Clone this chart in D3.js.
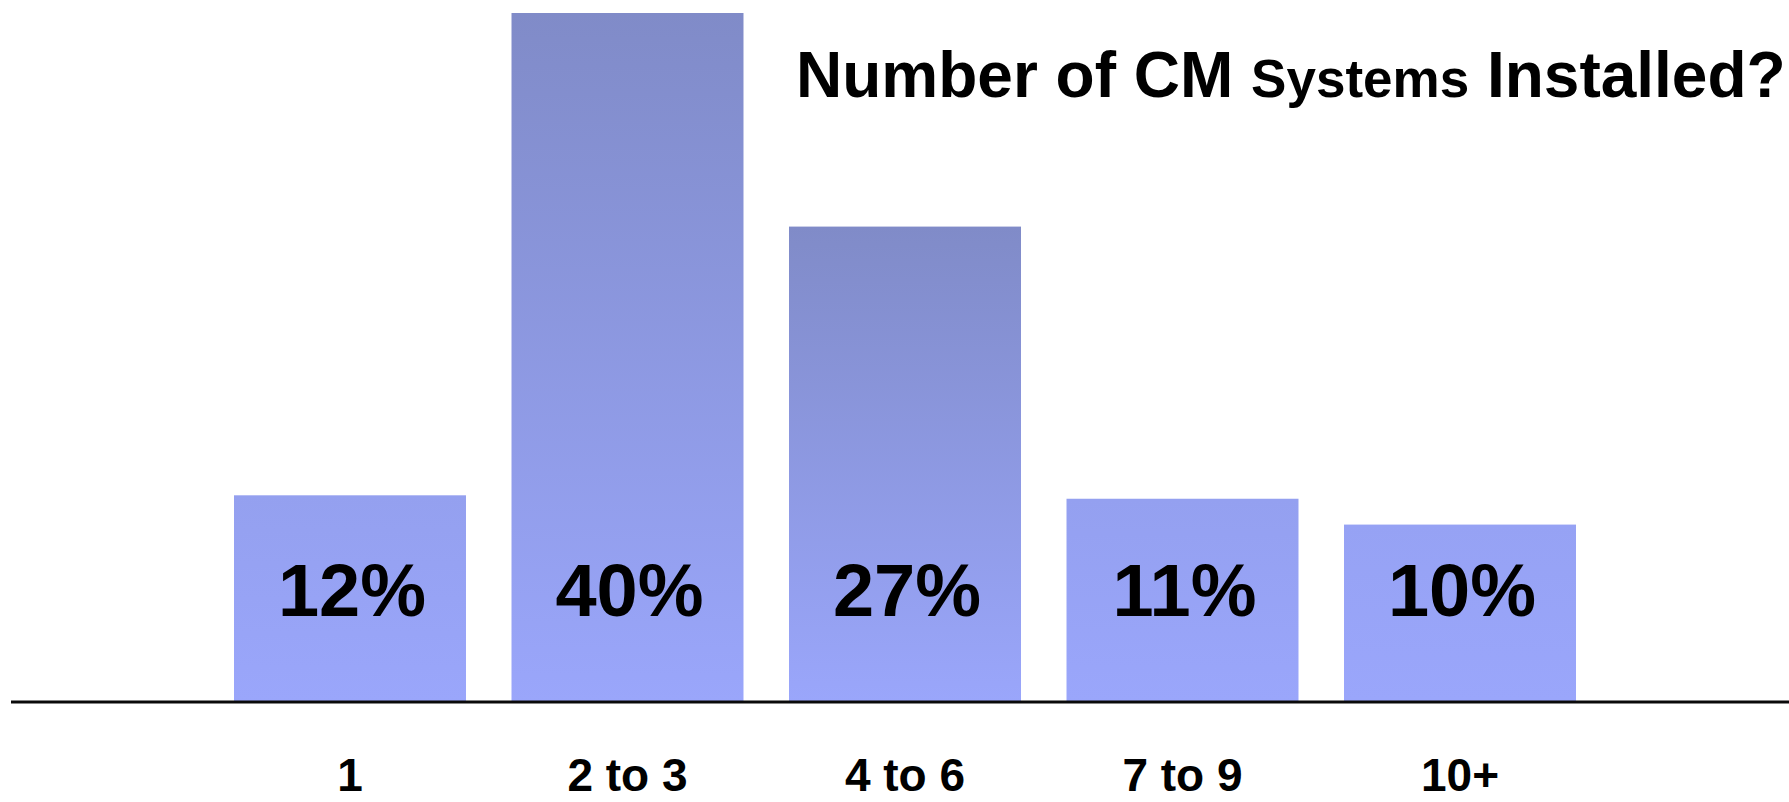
<!DOCTYPE html>
<html>
<head>
<meta charset="utf-8">
<style>
  html, body { margin: 0; padding: 0; background: #fff; }
  svg { display: block; font-family: "Liberation Sans", Arial, sans-serif; font-weight: bold; }
</style>
</head>
<body>
<svg width="1789" height="802"></svg>
<script src="https://cdn.jsdelivr.net/npm/d3@7"></script>
<script>
	// categories and the printed percentages
	var categories = ["1", "2 to 3", "4 to 6", "7 to 9", "10+"];
	var shareLabels = ["12%", "40%", "27%", "11%", "10%"];
	// bar heights as drawn in the picture (percent)
	var shares = [12, 40, 27.6, 11.8, 10.3];

	var svg = d3.select("svg"),
		width = +svg.attr("width"),
		height = +svg.attr("height");

	var baseY = 702;

	var x = d3.scaleBand().domain(categories).range([234, 1576])
		.paddingInner(0.164).paddingOuter(0);
	var y = d3.scaleLinear().domain([0, 40]).range([baseY, 13]);

	var light = "#9aa6fb", dark = "#808bc8";
	// how far toward the dark colour the top of a bar gets
	var topShade = d3.scaleLinear().domain([8, 25]).range([0, 1]).clamp(true);

	var defs = svg.append("defs");
	var data = categories.map(function(c, i) {
		return { cat: c, value: shares[i], label: shareLabels[i], i: i };
	});

	data.forEach(function(d) {
		var g = defs.append("linearGradient").attr("id", "grad" + d.i)
			.attr("x1", 0).attr("y1", 0).attr("x2", 0).attr("y2", 1);
		g.append("stop").attr("offset", "0%")
			.attr("stop-color", d3.interpolateRgb(light, dark)(topShade(d.value)));
		g.append("stop").attr("offset", "100%").attr("stop-color", light);
	});

	svg.append("g").selectAll("rect").data(data).enter().append("rect")
		.attr("x", function(d) { return x(d.cat); })
		.attr("y", function(d) { return y(d.value); })
		.attr("width", x.bandwidth())
		.attr("height", function(d) { return baseY - y(d.value); })
		.attr("fill", function(d) { return "url(#grad" + d.i + ")"; });

	// value labels inside bars
	svg.append("g").selectAll("text").data(data).enter().append("text")
		.attr("x", function(d) { return x(d.cat) + x.bandwidth() / 2 + 2; })
		.attr("y", 616)
		.attr("text-anchor", "middle")
		.attr("font-size", "74px")
		.attr("fill", "#000")
		.text(function(d) { return d.label; });

	// baseline
	svg.append("line")
		.attr("x1", 11).attr("x2", width)
		.attr("y1", baseY).attr("y2", baseY)
		.attr("stroke", "#0a0a0a").attr("stroke-width", 3);

	// category labels
	var xAxis = d3.axisBottom(x).tickSize(0).tickPadding(0);
	var ax = svg.append("g").attr("transform", "translate(0," + 764 + ")").call(xAxis);
	ax.select(".domain").remove();
	ax.selectAll("text")
		.attr("dy", 0).attr("y", 27)
		.attr("font-family", "Liberation Sans, Arial, sans-serif")
		.attr("font-weight", "bold")
		.attr("font-size", "46px")
		.attr("fill", "#000");

	// title
	var title = svg.append("text").attr("x", 796).attr("y", 97)
		.attr("font-size", "64px").attr("fill", "#000");
	title.append("tspan").text("Number of CM ");
	title.append("tspan").attr("font-size", "53px").text("Systems");
	title.append("tspan").text(" Installed?");
</script>
</body>
</html>
